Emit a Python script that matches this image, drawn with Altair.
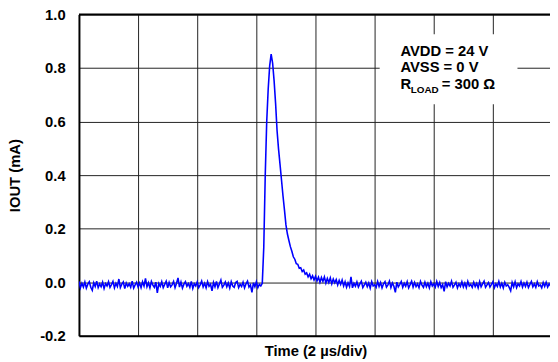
import altair as alt
import pandas as pd

# ---- data (IOUT in microamps, sampled every 0.05 us) ----
sample_step_us = 0.05

pre_pulse_uA = [
    3, -21, -4, -18, 1, -22, -7, 2, -19, -30, -2, -16, 4, -20, -6, -17, 0, -23, -5, -14,
    2, -19, -9, 3, -21, -4, -16, 12, -20, -7, 1, -24, -3, -15, -6, -19, 4, -22, -10, 0,
    -18, -3, -20, 2, -14, 14, -17, -2, -21, 3, -11, -19, 0, -40, -5, -16, 2, -20, -8, 4,
    -21, -1, -17, -10, 3, -20, -4, 16, -18, 1, -22, -7, 2, -15, -5, -19, 3, -23, -6, -14,
    1, -20, -10, 4, -18, -4, -21, 2, -15, -8, -32, -1, -17, 3, -20, -6, 8, -19, -11, 1,
    -17, -3, -22, 2, -14, -19, -1, 3, -20, -8, -16, 0, -21, -6, 4, -18, -10, -38, -2, -17,
    2, -20, -8, -14, -4,
]

pulse_uA = [130, 400, 600, 722, 808, 852, 818, 752, 668, 566, 497, 440, 382, 323, 270]

post_pulse_uA = [
    214, 180, 156, 133, 116, 95, 86, 69, 67, 52, 54, 40, 46, 30, 35, 20, 30, 13, 24, 8,
    22, 5, 19, 0, 18, 3, 20, -3, 14, -1, 16, -6, 12, -2, 10, -10, 7, -8, 8, -14,
    2, -19, -2, -16, 20, -21, -4, -15, 1, -18, -6, 4, -20, -10, 0, -17, -3, -22, 2, -14,
    -9, -19, 3, -16, -1, -21, -6, 2, -18, -10, 4, -20, -3, -15, -38, 0, -17, -8, 3, -19,
    -4, -15, 2, -21, -9, 4, -18, -1, -16, -6, -20, 3, -11, -19, 0, -17, -4, -21, 2, -14,
    -6, -18, 3, -16, -1, -20, -9, -34, 2, -17, -4, -14, 4, -19, -10, 0, -21, -6, -16, 2,
    -18, -3, -20, 3, -14, -8, -19, 0, -16, -4, -21, 2, -17, -6, 4, -19, -10, -1, -18, -8,
    2, -20, -6, -16, 3, -18, -4, -21, 0, -14, -9, -19, -32, -1, -17, 2, -20, -6, -14, 3,
    -18, -3, -16, 0, -20, -8, 3, -17, -6, -19, 2, -14, -10, -21, -1, -16, 0, -18, -6, -14,
]

y_ticks = [-0.2, 0.0, 0.2, 0.4, 0.6, 0.8, 1.0]
x_grid_us = [2, 4, 6, 8, 10, 12, 14]
x_domain_us = [0, 15.93]
y_domain_mA = [-0.2, 1.0]

# annotation
note_lines = ["AVDD = 24 V", "AVSS = 0 V", "R", "LOAD", "= 300 Ω"]
note_t = [10.87, 10.87, 10.87, 11.22, 12.27]
note_y = [0.864, 0.805, 0.740, 0.719, 0.740]
note_size = [15, 15, 15, 10, 15]
note_box = {"t": [10.17], "t2": [14.83], "iout": [0.665], "iout2": [0.926]}

iout_uA = pre_pulse_uA + pulse_uA + post_pulse_uA
df = pd.DataFrame({
    "t": [round(i * sample_step_us, 2) for i in range(len(iout_uA))],
    "iout": [v / 1000.0 for v in iout_uA],
})

FONT = "Liberation Sans"

x_enc = alt.X(
    "t:Q",
    scale=alt.Scale(domain=x_domain_us, nice=False, zero=False),
    axis=alt.Axis(
        values=x_grid_us, labels=False, ticks=False, grid=True,
        gridColor="#222222", gridWidth=1,
        domain=True, domainColor="black", domainWidth=2,
        title="Time (2 µs/div)", titleFont=FONT, titleFontSize=15,
        titleFontWeight="bold", titleColor="black",
        titleX=240, titleY=15, titleBaseline="middle",
    ),
)
y_enc = alt.Y(
    "iout:Q",
    scale=alt.Scale(domain=y_domain_mA, nice=False, zero=False),
    axis=alt.Axis(
        values=y_ticks,
        labelExpr="datum.value < 0 ? '-' + format(-datum.value, '.1f') : format(datum.value, '.1f')",
        labelFont=FONT, labelFontSize=15, labelFontWeight="bold", labelColor="black",
        labelPadding=14, ticks=False, grid=True, gridColor="#222222", gridWidth=1,
        domain=True, domainColor="black", domainWidth=2,
        title="IOUT (mA)", titleFont=FONT, titleFontSize=15, titleFontWeight="bold",
        titleColor="black", titleAngle=-90, titleX=-65, titleY=163,
        titleBaseline="middle", titleAlign="center",
    ),
)

line = alt.Chart(df).mark_line(color="#0000FF", strokeWidth=1.6, clip=True).encode(
    x=x_enc, y=y_enc
)

box = alt.Chart(pd.DataFrame(note_box)).mark_rect(fill="white").encode(
    x="t:Q", x2="t2:Q", y="iout:Q", y2="iout2:Q"
)

top_border = alt.Chart(pd.DataFrame({"iout": [1.0]})).mark_rule(
    color="black", strokeWidth=2
).encode(y="iout:Q")

notes = alt.Chart(pd.DataFrame({
    "t": note_t, "iout": note_y, "label": note_lines, "fs": note_size
})).mark_text(
    align="left", baseline="middle", font=FONT, fontWeight="bold", color="black"
).encode(
    x="t:Q", y="iout:Q", text="label:N", size=alt.Size("fs:Q", scale=None, legend=None)
)

chart = alt.layer(box, line, top_border, notes).properties(
    width=478, height=326,
    autosize=alt.AutoSizeParams(type="none"),
    padding={"left": 72, "top": 4, "right": 0, "bottom": 24},
).configure_view(stroke=None)

chart.save("out.html", embed_options={"renderer": "svg", "actions": False})
